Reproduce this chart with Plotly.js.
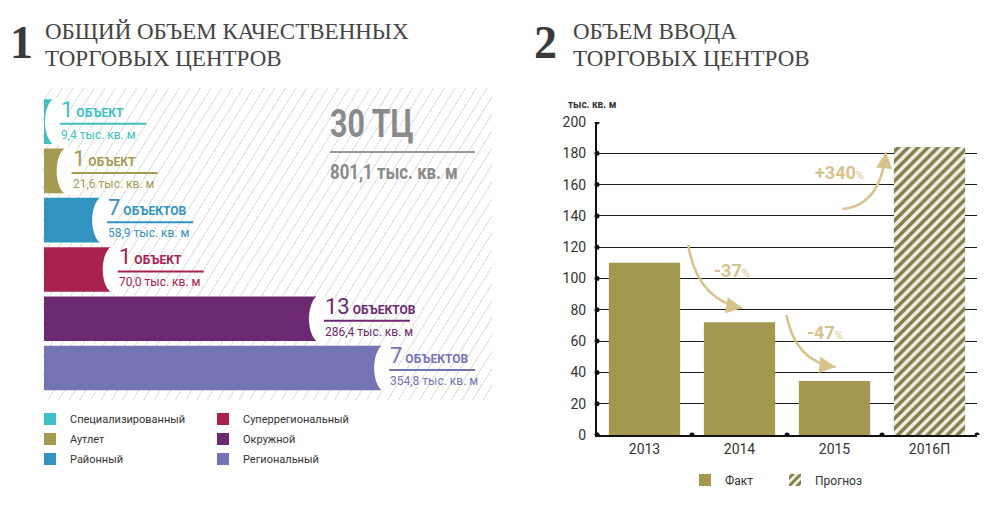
<!DOCTYPE html>
<html>
<head>
<meta charset="utf-8">
<script src="https://cdn.plot.ly/plotly-3.0.1.min.js"></script>
<style>
  html, body { margin: 0; padding: 0; background: #ffffff; }
  #wrap { position: relative; width: 1000px; height: 507px; overflow: hidden; }
  #hatch {
    position: absolute; left: 42px; top: 88px; width: 450px; height: 312px;
    background: repeating-linear-gradient(122deg, rgba(0,0,0,0) 0px, rgba(0,0,0,0) 7.8px, #e4e4e4 7.8px, #e4e4e4 9px);
  }
  #chart { position: absolute; left: 0; top: 0; width: 1000px; height: 507px; }
</style>
</head>
<body>
<div id="wrap">
  <div id="hatch"></div>
  <div id="chart"></div>
</div>
<script>
// ---------- data: panel 1 ----------
const categories = ['Специализированный', 'Аутлет', 'Районный', 'Суперрегиональный', 'Окружной', 'Региональный'];
const areas = [9.4, 21.6, 58.9, 70.0, 286.4, 354.8];
const counts = [1, 1, 7, 1, 13, 7];
const barColors = ['#3dbfc4', '#a49a52', '#3293c0', '#a9214f', '#6d2a73', '#7474b5'];
const totalCount = '30 ТЦ';
const totalArea = '801,1 тыс. кв. м';

// ---------- data: panel 2 ----------
const years = ['2013', '2014', '2015'];
const factValues = [110, 72, 34.5];
const forecastYears = ['2016П'];
const forecastValues = [184];
const yTicks = [0, 20, 40, 60, 80, 100, 120, 140, 160, 180, 200];
const changes = ['-37', '-47', '+340'];

// ---------- helpers ----------
const SANS = "Roboto,'Liberation Sans',sans-serif";
const SERIF = "'Liberation Serif','DejaVu Serif',serif";
const W = 1000, H = 507;
const PX = p => p / W;
const PY = p => 1 - p / H;
const fmt = v => v.toFixed(1).replace('.', ',');
const word = n => (n === 1 ? 'ОБЪЕКТ' : 'ОБЪЕКТОВ');
const legendFor = ['legend', 'legend2', 'legend3'];
const GOLD = '#d6c38c';

const traces = [];
categories.forEach((c, i) => {
  traces.push({
    type: 'bar', orientation: 'h', xaxis: 'x', yaxis: 'y',
    y: [c], x: [areas[i]], name: c, width: 0.906,
    marker: { color: barColors[i], line: { width: 0 } },
    legend: legendFor[i % 3], showlegend: true, hoverinfo: 'skip'
  });
});
traces.push({
  type: 'bar', xaxis: 'x2', yaxis: 'y2', x: years, y: factValues, name: 'Факт', width: 0.75,
  marker: { color: '#a2984f', line: { width: 0 } },
  legend: 'legend4', showlegend: true, hoverinfo: 'skip'
});
traces.push({
  type: 'bar', xaxis: 'x2', yaxis: 'y2', x: forecastYears, y: forecastValues, name: 'Прогноз', width: 0.75,
  marker: { color: '#f1efe2', line: { width: 0 },
            pattern: { shape: '/', fgcolor: '#807e4c', bgcolor: '#f1efe2', size: 7, solidity: 0.5 } },
  legend: 'legend4', showlegend: true, hoverinfo: 'skip'
});

const shapes = [];
const annotations = [];
const condensed = [];   // indices of annotations drawn in a condensed face

// panel 1: concave bar ends, underlines, labels
categories.forEach((c, i) => {
  shapes.push({
    type: 'circle', xref: 'x', yref: 'y', xsizemode: 'pixel', ysizemode: 'pixel',
    xanchor: areas[i], yanchor: c, x0: -8, x1: 16, y0: -24, y1: 24,
    fillcolor: '#ffffff', line: { width: 0 }, layer: 'above'
  });
  shapes.push({
    type: 'line', xref: 'x', yref: 'y', xsizemode: 'pixel', ysizemode: 'pixel',
    xanchor: areas[i], yanchor: c, x0: 7, x1: 93, y0: -2, y1: -2,
    line: { color: barColors[i], width: 2 }, layer: 'above'
  });
  annotations.push({
    xref: 'x', yref: 'y', x: areas[i], y: c, xanchor: 'left', yanchor: 'bottom',
    xshift: 6, yshift: -2, showarrow: false,
    text: '<span style="font-size:22px">' + counts[i] + '</span> <b>' + word(counts[i]) + '</b>',
    font: { family: SANS, size: 12, color: barColors[i] }
  });
  annotations.push({
    xref: 'x', yref: 'y', x: areas[i], y: c, xanchor: 'left', yanchor: 'top',
    xshift: 6, yshift: -4, showarrow: false,
    text: fmt(areas[i]) + ' тыс. кв. м',
    font: { family: SANS, size: 12, color: barColors[i] }
  });
});

// totals
condensed.push(annotations.length);
annotations.push({ xref: 'paper', yref: 'paper', x: PX(328), y: PY(124), xanchor: 'left', yanchor: 'middle',
  showarrow: false, text: '<b>' + totalCount + '</b>', font: { family: SANS, size: 38, color: '#8a8a8a' } });
shapes.push({ type: 'line', xref: 'paper', yref: 'paper', x0: PX(330), x1: PX(475), y0: PY(152), y1: PY(152),
  line: { color: '#999999', width: 2 } });
condensed.push(annotations.length);
annotations.push({ xref: 'paper', yref: 'paper', x: PX(328), y: PY(172), xanchor: 'left', yanchor: 'middle',
  showarrow: false, text: '<b>' + totalArea + '</b>', font: { family: SANS, size: 21, color: '#8a8a8a' } });

// titles
const titleFont = { family: SERIF, size: 23, color: '#444444' };
annotations.push({ xref: 'paper', yref: 'paper', x: PX(8), y: PY(70), xanchor: 'left', yanchor: 'bottom',
  showarrow: false, text: '<b>1</b>', font: { family: SERIF, size: 46, color: '#3a3a3a' } });
annotations.push({ xref: 'paper', yref: 'paper', x: PX(43), y: PY(32), xanchor: 'left', yanchor: 'middle',
  showarrow: false, text: 'ОБЩИЙ ОБЪЕМ КАЧЕСТВЕННЫХ', font: titleFont });
annotations.push({ xref: 'paper', yref: 'paper', x: PX(43), y: PY(58), xanchor: 'left', yanchor: 'middle',
  showarrow: false, text: 'ТОРГОВЫХ ЦЕНТРОВ', font: titleFont });
annotations.push({ xref: 'paper', yref: 'paper', x: PX(532), y: PY(70), xanchor: 'left', yanchor: 'bottom',
  showarrow: false, text: '<b>2</b>', font: { family: SERIF, size: 46, color: '#3a3a3a' } });
annotations.push({ xref: 'paper', yref: 'paper', x: PX(571), y: PY(32), xanchor: 'left', yanchor: 'middle',
  showarrow: false, text: 'ОБЪЕМ ВВОДА', font: titleFont });
annotations.push({ xref: 'paper', yref: 'paper', x: PX(571), y: PY(58), xanchor: 'left', yanchor: 'middle',
  showarrow: false, text: 'ТОРГОВЫХ ЦЕНТРОВ', font: titleFont });

// panel 2: y-axis unit label
annotations.push({ xref: 'paper', yref: 'paper', x: PX(566), y: PY(105), xanchor: 'left', yanchor: 'middle',
  showarrow: false, text: '<b>тыс. кв. м</b>', font: { family: SANS, size: 10, color: '#333333' } });

// axis dots
yTicks.forEach(v => {
  shapes.push({ type: 'circle', xref: 'x2 domain', yref: 'y2', xsizemode: 'pixel', ysizemode: 'pixel',
    xanchor: 0, yanchor: v, x0: -2.5, x1: 2.5, y0: -2.5, y1: 2.5, fillcolor: '#111111', line: { width: 0 }, layer: 'above' });
});
for (let k = 0; k <= 4; k++) {
  shapes.push({ type: 'circle', xref: 'x2 domain', yref: 'y2', xsizemode: 'pixel', ysizemode: 'pixel',
    xanchor: k / 4, yanchor: 0, x0: -2.5, x1: 2.5, y0: -2.5, y1: 2.5, fillcolor: '#111111', line: { width: 0 }, layer: 'above' });
}

// curved change arrows (decoration, x in plot-domain fraction, y in data units)
const arrowPaths = [
  { s: [0.240, 121.4], c: [0.264, 86.3], e: [0.3826, 81.2], head: [-12, -2] },
  { s: [0.4987, 76.7], c: [0.522, 46.6], e: [0.628, 43.5], head: [-12, -1.5] },
  { s: [0.646, 144.4], c: [0.747, 147.0], e: [0.760, 180.8], head: [-1.2, 12] }
];
const labelPos = [[0.355, 105.4], [0.599, 65.8], [0.637, 168.0]];
arrowPaths.forEach((a, i) => {
  shapes.push({ type: 'path', xref: 'x2 domain', yref: 'y2',
    path: 'M' + a.s[0] + ',' + a.s[1] + ' Q' + a.c[0] + ',' + a.c[1] + ' ' + a.e[0] + ',' + a.e[1],
    line: { color: GOLD, width: 2.5 }, layer: 'above' });
  annotations.push({ xref: 'x2 domain', yref: 'y2', x: a.e[0], y: a.e[1], ax: a.head[0], ay: a.head[1],
    axref: 'pixel', ayref: 'pixel', text: '', showarrow: true, arrowhead: 2, arrowsize: 1.3, arrowwidth: 2.5,
    arrowcolor: GOLD, standoff: 0 });
  annotations.push({ xref: 'x2 domain', yref: 'y2', x: labelPos[i][0], y: labelPos[i][1], xanchor: 'center', yanchor: 'middle',
    showarrow: false, text: '<b>' + changes[i] + '</b><span style="font-size:11px">%</span>',
    font: { family: SANS, size: 18, color: GOLD } });
});

const legendBase = { orientation: 'h', xanchor: 'left', yanchor: 'middle', bgcolor: 'rgba(0,0,0,0)',
  borderwidth: 0, font: { family: SANS, size: 11, color: '#333333' }, entrywidth: 128, entrywidthmode: 'pixels',
  itemclick: false, itemdoubleclick: false };

const layout = {
  width: W, height: H,
  margin: { l: 0, r: 0, t: 0, b: 0, pad: 0 },
  paper_bgcolor: 'rgba(0,0,0,0)', plot_bgcolor: 'rgba(0,0,0,0)',
  barmode: 'overlay',
  showlegend: true,
  xaxis: { domain: [PX(44), PX(490)], range: [0, 468], visible: false, fixedrange: true },
  yaxis: { domain: [PY(395), PY(97)], type: 'category', categoryorder: 'array', categoryarray: categories,
           autorange: 'reversed', visible: false, fixedrange: true },
  xaxis2: { domain: [PX(597), PX(977)], type: 'category', range: [-0.5, 3.5], anchor: 'y2',
            showline: true, linecolor: '#111111', linewidth: 2, showgrid: false, ticks: '', zeroline: false,
            tickfont: { family: SANS, size: 14, color: '#333333' }, fixedrange: true },
  yaxis2: { domain: [PY(435), PY(122)], range: [0, 200], tickvals: yTicks, anchor: 'x2',
            showline: true, linecolor: '#111111', linewidth: 2, showgrid: true, gridcolor: '#1a1a1a', gridwidth: 1,
            zeroline: false, ticks: '', ticklabelstandoff: 6,
            tickfont: { family: SANS, size: 14, color: '#333333' }, fixedrange: true },
  legend: Object.assign({}, legendBase, { x: PX(30), y: PY(419) }),
  legend2: Object.assign({}, legendBase, { x: PX(30), y: PY(439) }),
  legend3: Object.assign({}, legendBase, { x: PX(30), y: PY(459) }),
  legend4: Object.assign({}, legendBase, { x: PX(685), y: PY(480), entrywidth: 45, font: { family: SANS, size: 12, color: '#333333' } }),
  shapes: shapes,
  annotations: annotations
};

Plotly.newPlot('chart', traces, layout, { staticPlot: true, displayModeBar: false }).then(() => {
  // condensed face for the two large totals (reference uses a narrow typeface)
  condensed.forEach(idx => {
    const t = document.querySelector('#chart g.annotation[data-index="' + idx + '"] text.annotation-text');
    if (t) {
      t.style.transformBox = 'fill-box';
      t.style.transformOrigin = 'left center';
      t.style.transform = 'scaleX(0.8)';
    }
  });
});
</script>
</body>
</html>
